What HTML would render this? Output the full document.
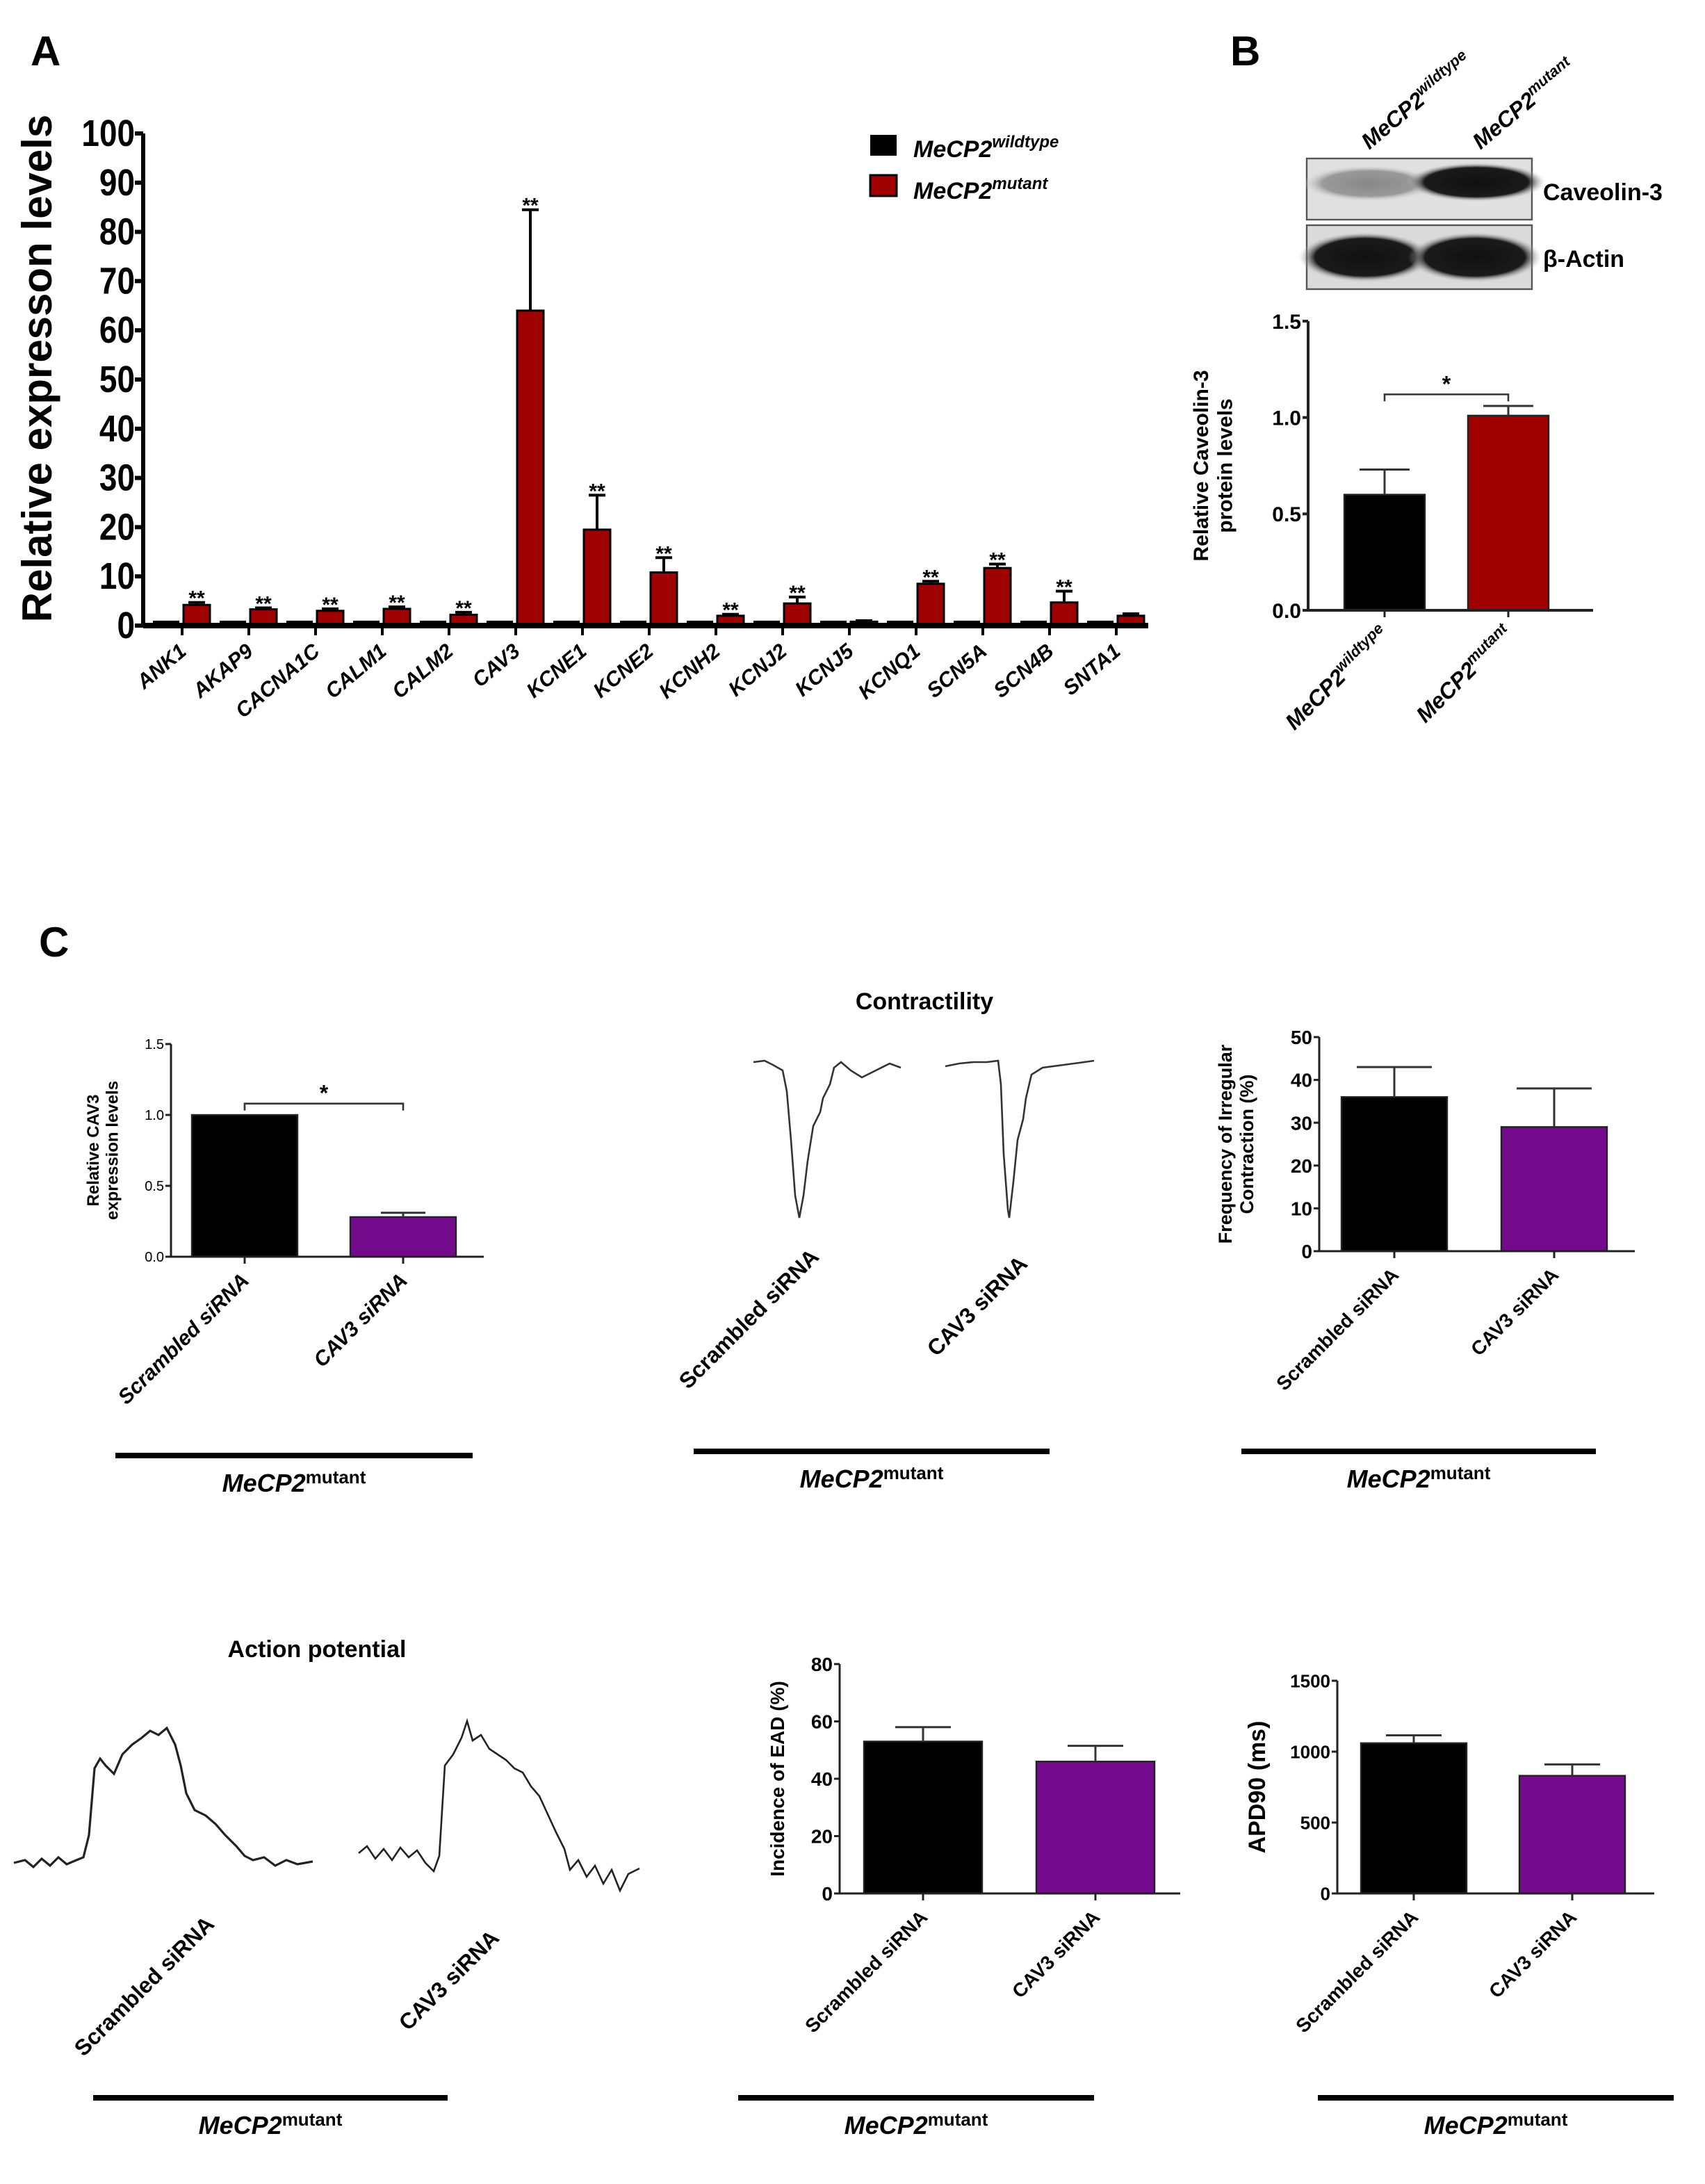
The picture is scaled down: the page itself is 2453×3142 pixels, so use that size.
<!DOCTYPE html>
<html><head><meta charset="utf-8"><style>
html,body{margin:0;padding:0;background:#fff;}
svg{display:block;font-family:"Liberation Sans",Arial,sans-serif;}
</style></head><body>
<svg id="fig" width="2453" height="3142" viewBox="0 0 1226.5 1571" xmlns="http://www.w3.org/2000/svg">
<rect width="1226.5" height="1571" fill="#fff"/>
<g id="root"></g>
</svg>
<script>
// ---------- Panel A data ----------
const genesA = ["ANK1","AKAP9","CACNA1C","CALM1","CALM2","CAV3","KCNE1","KCNE2","KCNH2","KCNJ2","KCNJ5","KCNQ1","SCN5A","SCN4B","SNTA1"];
const wtA = [1,1,1,1,1,1,1,1,1,1,1,1,1,1,1];
const mutA = [4.2,3.3,3.0,3.4,2.2,64,19.5,10.8,2.0,4.5,0.8,8.5,11.7,4.7,2.0];
const mutErrA = [0.5,0.3,0.4,0.4,0.5,20.5,7,3,0.3,1.3,0.2,0.5,0.8,2.3,0.4];
const sigA = ["**","**","**","**","**","**","**","**","**","**","","**","**","**",""];
const ticksA = [0,10,20,30,40,50,60,70,80,90,100];
// ---------- Panel B data ----------
const valsB = [0.60,1.01];
const errB = [0.13,0.05];
const ticksB = ["0.0","0.5","1.0","1.5"];
// ---------- Panel C data ----------
const valsC1 = [1.0,0.28];
const errC1 = [0,0.03];
const ticksC1 = ["0.0","0.5","1.0","1.5"];
const valsC3 = [36,29];
const errC3 = [7,9];
const ticksC3 = [0,10,20,30,40,50];
const valsC5 = [53,46];
const errC5 = [5,5.5];
const ticksC5 = [0,20,40,60,80];
const valsC6 = [1060,830];
const errC6 = [55,80];
const ticksC6 = [0,500,1000,1500];
const siLabels = ["Scrambled siRNA","CAV3 siRNA"];

const NS="http://www.w3.org/2000/svg";
const root=document.getElementById('root');
function el(tag,attrs,parent,text){const e=document.createElementNS(NS,tag);for(const k in attrs)e.setAttribute(k,attrs[k]);if(text!==undefined)e.textContent=text;(parent||root).appendChild(e);return e;}
function g(name){const e=el('g',{});return e;}

// ===== Panel A =====
const A=g('panel-a-chart');
el('text',{x:22,y:47,'font-size':30,'font-weight':'bold'},A,'A');
const ax0=103, ax1=826, ay0=450, ay1=96;
const yA=v=>ay0-(v/100)*(ay0-ay1);
const xA=i=>131+i*48;
el('line',{x1:ax0,y1:ay0,x2:ax0,y2:ay1,stroke:'#000','stroke-width':3},A);
ticksA.forEach(t=>{el('line',{x1:ax0-6,y1:yA(t),x2:ax0,y2:yA(t),stroke:'#000','stroke-width':3},A);
 el('text',{x:ax0-6,y:yA(t)+9,'font-size':27,'font-weight':'bold','text-anchor':'end',transform:`translate(${ax0-6},0) scale(0.85,1) translate(${-(ax0-6)},0)`},A,t);});
const ylab=el('text',{x:0,y:0,'font-size':30,'font-weight':'bold','text-anchor':'middle',transform:'translate(37,265) rotate(-90)'},A,'Relative expresson levels');

genesA.forEach((gname,i)=>{
 const x=xA(i);
 const b=el('rect',{x:x-21,y:yA(wtA[i]),width:19,height:ay0-yA(wtA[i]),fill:'#000'},A);
 
 const r=el('rect',{x:x+1,y:yA(mutA[i]),width:19,height:ay0-yA(mutA[i]),fill:'#a00000',stroke:'#000','stroke-width':1.5},A);
 
 const ex=x+10.5, et=yA(mutA[i]+mutErrA[i]);
 el('line',{x1:ex,y1:yA(mutA[i]),x2:ex,y2:et,stroke:'#000','stroke-width':2},A);
 el('line',{x1:ex-6,y1:et,x2:ex+6,y2:et,stroke:'#000','stroke-width':2},A);
 if(sigA[i]) el('text',{x:ex,y:et+2,'font-size':15,'font-weight':'bold','text-anchor':'middle'},A,sigA[i]);
 el('line',{x1:x,y1:ay0,x2:x,y2:ay0+7,stroke:'#000','stroke-width':2},A);
 const t=el('text',{x:x+4,y:ay0+20,'font-size':15,'font-weight':'bold','font-style':'italic','text-anchor':'end',transform:`rotate(-40 ${x+4} ${ay0+20})`},A,gname);
 
});
el('line',{x1:ax0,y1:ay0,x2:ax1,y2:ay0,stroke:'#000','stroke-width':4},A);
const lg=g('legend');
el('rect',{x:626,y:97,width:19,height:15,fill:'#000'},lg);
el('rect',{x:626,y:126,width:19,height:15,fill:'#a00000',stroke:'#000','stroke-width':1.5},lg);
let lt=el('text',{x:657,y:113,'font-size':17,'font-weight':'bold','font-style':'italic'},lg);lt.innerHTML='MeCP2<tspan font-size="12" dy="-7">wildtype</tspan>';
lt=el('text',{x:657,y:143,'font-size':17,'font-weight':'bold','font-style':'italic'},lg);lt.innerHTML='MeCP2<tspan font-size="12" dy="-7">mutant</tspan>';

// ===== Panel B =====
const B=g('panel-b');
el('text',{x:885,y:47,'font-size':30,'font-weight':'bold'},B,'B');
[[985,108,'wildtype'],[1065,108,'mutant']].forEach(([x,y,s])=>{const t=el('text',{x:x,y:y,'font-size':16,'font-weight':'bold','font-style':'italic',transform:`rotate(-40 ${x} ${y})`},B);t.innerHTML='MeCP2<tspan font-size="11" dy="-6">'+s+'</tspan>';});
const defs=el('defs',{});
const gr=el('radialGradient',{id:'band',cx:'50%',cy:'50%',r:'50%'},defs);
el('stop',{offset:'0%','stop-color':'#111'},gr);el('stop',{offset:'75%','stop-color':'#1a1a1a'},gr);el('stop',{offset:'100%','stop-color':'#ccc','stop-opacity':0},gr);
const gr2=el('radialGradient',{id:'bandw',cx:'50%',cy:'50%',r:'50%'},defs);
el('stop',{offset:'0%','stop-color':'#888'},gr2);el('stop',{offset:'70%','stop-color':'#999'},gr2);el('stop',{offset:'100%','stop-color':'#ddd','stop-opacity':0},gr2);
el('rect',{x:940,y:114,width:162,height:44,fill:'#e0e0e0',stroke:'#555','stroke-width':1.2},B);
el('ellipse',{cx:985,cy:132,rx:48,ry:13,fill:'url(#bandw)'},B);
el('ellipse',{cx:1062,cy:131,rx:50,ry:14,fill:'url(#band)'},B);
el('rect',{x:940,y:162,width:162,height:46,fill:'#dadada',stroke:'#555','stroke-width':1.2},B);
el('ellipse',{cx:982,cy:185,rx:48,ry:18,fill:'url(#band)'},B);
el('ellipse',{cx:1061,cy:185,rx:48,ry:18,fill:'url(#band)'},B);
el('text',{x:1110,y:144,'font-size':17,'font-weight':'bold'},B,'Caveolin-3');
el('text',{x:1110,y:192,'font-size':17,'font-weight':'bold'},B,'β-Actin');

function barPlot(p){
 const G=g(p.name);
 const y=v=>p.y0-(v/p.max)*(p.y0-p.y1);
 el('line',{x1:p.ax,y1:p.y0,x2:p.ax,y2:p.y1,stroke:'#222','stroke-width':p.lw},G);
 p.ticks.forEach(t=>{const yy=y(parseFloat(t));el('line',{x1:p.ax-4,y1:yy,x2:p.ax,y2:yy,stroke:'#222','stroke-width':p.lw},G);
  el('text',{x:p.ax-5,y:yy+p.tfs*0.36,'font-size':p.tfs,'font-weight':p.tbold?'bold':'normal','text-anchor':'end'},G,t);});
 p.vals.forEach((v,i)=>{
  const c=p.cx[i];
  const r=el('rect',{x:c-p.bw/2,y:y(v),width:p.bw,height:p.y0-y(v),fill:p.colors[i],stroke:'#222','stroke-width':1.2},G);
  
  if(p.err[i]>0){const et=y(v+p.err[i]);el('line',{x1:c,y1:y(v),x2:c,y2:et,stroke:'#333','stroke-width':1.5},G);el('line',{x1:c-p.cap,y1:et,x2:c+p.cap,y2:et,stroke:'#333','stroke-width':1.5},G);}
  el('line',{x1:c,y1:p.y0,x2:c,y2:p.y0+5,stroke:'#222','stroke-width':1.5},G);
  if(p.xl){const t=el('text',{x:c+4,y:p.y0+18,'font-size':p.xfs,'font-weight':'bold','font-style':p.xital?'italic':'normal','text-anchor':'end',transform:`rotate(-45 ${c+4} ${p.y0+18})`},G);t.innerHTML=p.xl[i];}
 });
 el('line',{x1:p.ax,y1:p.y0,x2:p.axEnd,y2:p.y0,stroke:'#222','stroke-width':p.lw},G);
 p.ylab.forEach((s,k)=>{const t=el('text',{x:0,y:0,'font-size':p.yfs,'font-weight':'bold','text-anchor':'middle',transform:`translate(${p.ylx+k*p.yfs*1.15},${(p.y0+p.y1)/2}) rotate(-90)`},G,s);});
 if(p.brk){const by=y(p.brk);el('path',{d:`M${p.cx[0]} ${by+5}V${by}H${p.cx[1]}V${by+5}`,fill:'none',stroke:'#333','stroke-width':1.3},G);
  el('text',{x:(p.cx[0]+p.cx[1])/2,y:by-2,'font-size':16,'font-weight':'bold','text-anchor':'middle'},G,'*');}
 return G;
}
barPlot({name:'panel-b-chart',ax:941,y0:439,y1:231,max:1.5,ticks:ticksB,tfs:15,tbold:true,lw:2,vals:valsB,err:errB,cx:[996,1085],bw:58,cap:18,colors:['#000','#a00000'],
 xl:['MeCP2<tspan font-size="11" dy="-6">wildtype</tspan>','MeCP2<tspan font-size="11" dy="-6">mutant</tspan>'],xfs:16,xital:true,axEnd:1146,
 ylab:['Relative Caveolin-3','protein levels'],yfs:15,ylx:869,brk:1.12});

// ===== Panel C =====
const C=g('panel-c');
el('text',{x:28,y:688,'font-size':30,'font-weight':'bold'},C,'C');
function underline(x1,x2,y){el('rect',{x:x1,y:y-2,width:x2-x1,height:4,fill:'#000'},C);
 const t=el('text',{x:(x1+x2)/2,y:y+26,'font-size':18,'font-weight':'bold','font-style':'italic','text-anchor':'middle'},C);t.innerHTML='MeCP2<tspan font-size="13" font-style="normal" dy="-6">mutant</tspan>';}
const si=siLabels;
barPlot({name:'cav3-expression-chart',ax:123,y0:904,y1:751,max:1.5,ticks:ticksC1,tfs:10,tbold:false,lw:1.5,vals:valsC1,err:errC1,cx:[176,290],bw:76,cap:16,colors:['#000','#740b8c'],
 xl:si,xfs:15,xital:true,axEnd:348,ylab:['Relative CAV3','expression levels'],yfs:12,ylx:71,brk:1.08});
underline(83,340,1047);
el('text',{x:665,y:726,'font-size':17,'font-weight':'bold','text-anchor':'middle'},C,'Contractility');
let tr=el('path',{d:'M542 764 L550 763 L556 766 L563 770 L566 785 L569 820 L572 860 L575 876 L578 860 L581 835 L585 810 L590 800 L592 790 L597 780 L600 768 L605 764 L612 770 L620 775 L630 770 L640 765 L648 768',fill:'none',stroke:'#333','stroke-width':1.3},C);

tr=el('path',{d:'M680 767 L690 765 L700 764 L710 764 L718 763 L720 780 L722 830 L725 870 L726 876 L729 850 L732 820 L736 805 L738 790 L742 773 L750 768 L765 766 L780 764 L787 763',fill:'none',stroke:'#333','stroke-width':1.3},C);

[[590,905,si[0]],[740,910,si[1]]].forEach(([x,y,s])=>el('text',{x:x,y:y,'font-size':16,'font-weight':'bold','text-anchor':'end',transform:`rotate(-45 ${x} ${y})`},C,s));
underline(499,755,1044);
barPlot({name:'irregular-contraction-chart',ax:949,y0:900,y1:746,max:50,ticks:ticksC3,tfs:14,tbold:true,lw:1.5,vals:valsC3,err:errC3,cx:[1003,1118],bw:76,cap:27,colors:['#000','#740b8c'],
 xl:si,xfs:14,xital:false,axEnd:1176,ylab:['Frequency of Irregular','Contraction (%)'],yfs:13.5,ylx:886,brk:0});
underline(893,1148,1044);

el('text',{x:228,y:1192,'font-size':17,'font-weight':'bold','text-anchor':'middle'},C,'Action potential');
tr=el('path',{d:'M10 1340 L18 1338 L24 1343 L30 1337 L36 1342 L42 1336 L48 1341 L55 1338 L60 1336 L64 1320 L68 1272 L72 1265 L76 1270 L82 1276 L88 1262 L95 1255 L102 1250 L108 1245 L114 1248 L120 1243 L126 1255 L130 1270 L134 1290 L140 1302 L148 1306 L155 1312 L162 1320 L170 1328 L176 1335 L182 1338 L190 1336 L198 1342 L206 1338 L214 1341 L225 1339',fill:'none',stroke:'#222','stroke-width':1.6},C);

tr=el('path',{d:'M258 1333 L264 1328 L270 1337 L276 1330 L282 1338 L288 1329 L294 1336 L300 1331 L306 1340 L312 1346 L316 1335 L320 1270 L326 1262 L332 1250 L336 1238 L340 1252 L346 1248 L352 1258 L358 1262 L364 1266 L370 1272 L376 1275 L382 1285 L388 1292 L394 1305 L400 1318 L406 1330 L410 1345 L416 1338 L422 1350 L428 1342 L434 1355 L440 1345 L446 1360 L452 1348 L460 1344',fill:'none',stroke:'#222','stroke-width':1.3},C);

[[155,1385,si[0]],[360,1395,si[1]]].forEach(([x,y,s])=>el('text',{x:x,y:y,'font-size':16,'font-weight':'bold','text-anchor':'end',transform:`rotate(-45 ${x} ${y})`},C,s));
underline(67,322,1509);
barPlot({name:'ead-incidence-chart',ax:604,y0:1362,y1:1197,max:80,ticks:ticksC5,tfs:14,tbold:true,lw:1.5,vals:valsC5,err:errC5,cx:[664,788],bw:85,cap:20,colors:['#000','#740b8c'],
 xl:si,xfs:14,xital:false,axEnd:849,ylab:['Incidence of EAD (%)'],yfs:14,ylx:564,brk:0});
underline(531,787,1509);
barPlot({name:'apd90-chart',ax:962,y0:1362,y1:1209,max:1500,ticks:ticksC6,tfs:13,tbold:true,lw:1.5,vals:valsC6,err:errC6,cx:[1017,1131],bw:76,cap:20,colors:['#000','#740b8c'],
 xl:si,xfs:14,xital:false,axEnd:1190,ylab:['APD90 (ms)'],yfs:17,ylx:910,brk:0});
underline(948,1204,1509);
</script>
</body></html>
